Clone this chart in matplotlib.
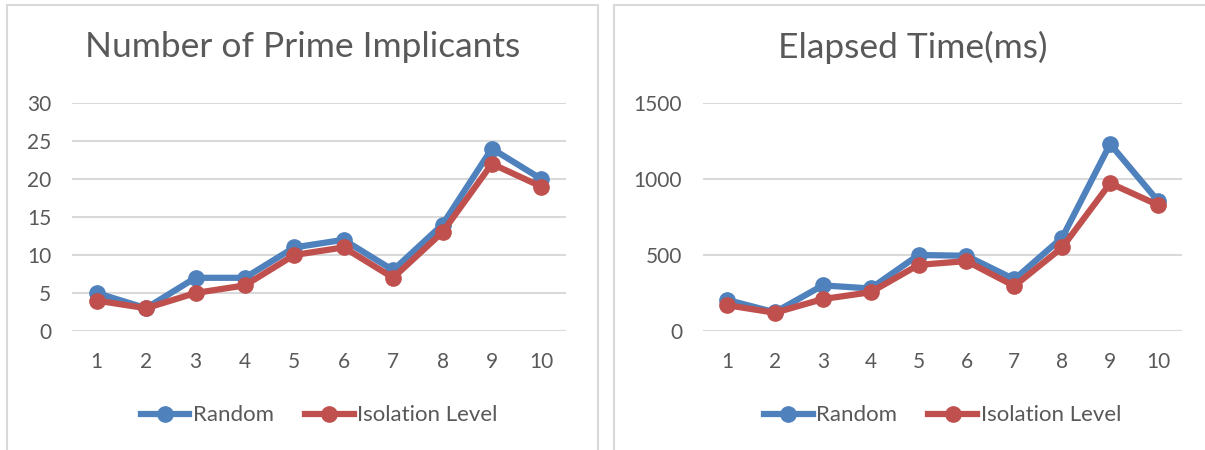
import numpy as np
import matplotlib.pyplot as plt
from matplotlib.patches import Rectangle

runs = np.arange(1, 11)

# number of prime implicants
pi_random = [5, 3, 7, 7, 11, 12, 8, 14, 24, 20]
pi_isolation = [4, 3, 5, 6, 10, 11, 7, 13, 22, 19]

# elapsed time in ms
t_random = [205, 123, 300, 280, 500, 495, 340, 615, 1230, 855]
t_isolation = [170, 120, 210, 255, 435, 460, 296, 550, 972, 829]

blue = '#4F81BD'
red = '#C0504D'
grey_txt = '#595959'
grid_c = '#D9D9D9'

plt.rcParams['font.family'] = ['Lato', 'DejaVu Sans']

W, H = 1205, 450
fig = plt.figure(figsize=(W/100, H/100), dpi=100)

def px_rect(x0, x1, y_top, y_bot):
    return [x0/W, 1 - y_bot/H, (x1 - x0)/W, (y_bot - y_top)/H]

# panel frames
for x0, x1 in [(7, 598), (614, 1210)]:
    fig.patches.append(Rectangle((x0/W, -0.02), (x1 - x0)/W, 1 - 5/H + 0.02,
                                 transform=fig.transFigure, fill=False,
                                 edgecolor=grid_c, lw=1.5))

panels = [
    (px_rect(72, 566, 103, 331), pi_random, pi_isolation, 30, [0, 5, 10, 15, 20, 25, 30],
     'Number of Prime Implicants', 303),
    (px_rect(703, 1182, 103, 331), t_random, t_isolation, 1500, [0, 500, 1000, 1500],
     'Elapsed Time(ms)', 913),
]

for rect, s1, s2, ymax, yt, title, tx in panels:
    ax = fig.add_axes(rect)
    ax.plot(runs, s1, color=blue, lw=4.5, marker='o', ms=11, label='Random', zorder=3)
    ax.plot(runs, s2, color=red, lw=4.5, marker='o', ms=11, label='Isolation Level', zorder=4)
    ax.set_xlim(0.5, 10.5)
    ax.set_ylim(0, ymax)
    ax.set_yticks(yt)
    ax.set_xticks(runs)
    ax.grid(axis='y', color=grid_c, lw=1.5)
    ax.set_axisbelow(True)
    for s in ax.spines.values():
        s.set_visible(False)
    ax.tick_params(length=0, labelsize=15, labelcolor=grey_txt)
    ax.tick_params(axis='y', pad=15)
    ax.tick_params(axis='x', pad=15)
    ax.set_facecolor('none')
    fig.text(tx/W, 1 - 47/H, title, ha='center', va='center', fontsize=25.5, color=grey_txt)
    ax.legend(loc='center', bbox_to_anchor=(0.5, -0.37), ncol=2, frameon=False,
              fontsize=16, labelcolor=grey_txt, handlelength=2.2, handletextpad=0.15,
              columnspacing=1.4)

fig.savefig('out.png', dpi=100)
